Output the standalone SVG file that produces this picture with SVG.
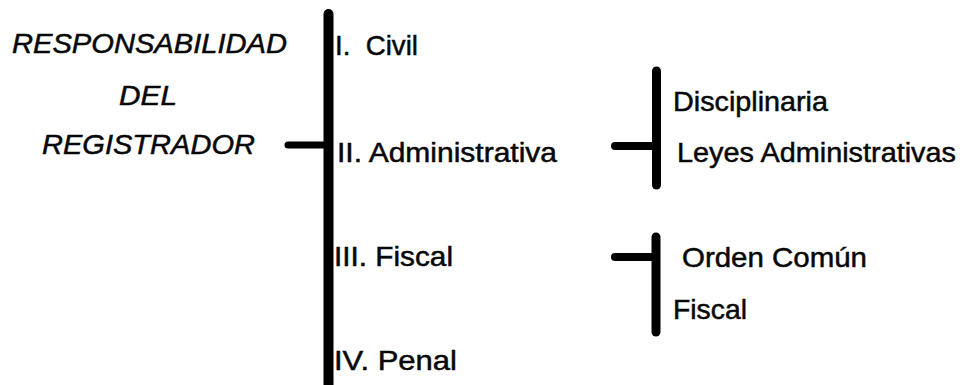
<svg xmlns="http://www.w3.org/2000/svg" width="966" height="385" viewBox="0 0 966 385">
<style>
text{font-family:"Liberation Sans",Arial,sans-serif;font-size:27.5px;fill:#080808;stroke:#080808;stroke-width:0.5}
.it{font-style:italic}
.bar{stroke:#000;stroke-linecap:round;fill:none}
</style>
<rect width="966" height="385" fill="#fff"/>
<g id="connectors">
<line class="bar" x1="328.5" y1="14" x2="328.5" y2="392" stroke-width="10"/>
<line class="bar" x1="288" y1="145" x2="326" y2="145" stroke-width="7"/>
<line class="bar" x1="656.5" y1="71" x2="656.5" y2="185" stroke-width="9"/>
<line class="bar" x1="615" y1="146" x2="654" y2="146" stroke-width="8"/>
<line class="bar" x1="656" y1="237" x2="656" y2="332" stroke-width="9"/>
<line class="bar" x1="615" y1="257" x2="654" y2="257" stroke-width="8"/>
</g>
<g id="root">
<text class="it" x="12" y="53" textLength="275" lengthAdjust="spacingAndGlyphs">RESPONSABILIDAD</text>
<text class="it" x="119" y="105" textLength="58" lengthAdjust="spacingAndGlyphs">DEL</text>
<text class="it" x="42" y="154" textLength="213" lengthAdjust="spacingAndGlyphs">REGISTRADOR</text>
</g>
<g id="civil"><text x="335" y="55" xml:space="preserve" textLength="83" lengthAdjust="spacingAndGlyphs">I.  Civil</text></g>
<g id="administrativa"><text x="337" y="162" textLength="220" lengthAdjust="spacingAndGlyphs">II. Administrativa</text></g>
<g id="fiscal"><text x="334" y="266" textLength="119" lengthAdjust="spacingAndGlyphs">III. Fiscal</text></g>
<g id="penal"><text x="334" y="370" textLength="123" lengthAdjust="spacingAndGlyphs">IV. Penal</text></g>
<g id="disciplinaria"><text x="673" y="111" textLength="155" lengthAdjust="spacingAndGlyphs">Disciplinaria</text></g>
<g id="leyes"><text x="677" y="162" textLength="279" lengthAdjust="spacingAndGlyphs">Leyes Administrativas</text></g>
<g id="orden"><text x="682" y="267" textLength="185" lengthAdjust="spacingAndGlyphs">Orden Común</text></g>
<g id="fiscal2"><text x="673" y="319" textLength="74" lengthAdjust="spacingAndGlyphs">Fiscal</text></g>
</svg>
